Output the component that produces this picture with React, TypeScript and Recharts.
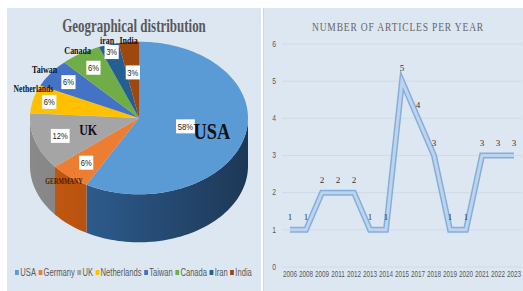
import React from "react";
import { PieChart, Pie, Cell, Legend, LineChart, Line, XAxis, YAxis, CartesianGrid, LabelList } from "recharts";

const countries = ["USA", "Germany", "UK", "Netherlands", "Taiwan", "Canada", "Iran", "India"];
const sliceLabels = ["USA", "GERMMANY", "UK", "Netherlands", "Taiwan", "Canada", "iran", "India"];
const shares = [58, 6, 12, 6, 6, 6, 3, 3];

const years = ["2006", "2008", "2009", "2011", "2012", "2013", "2014", "2015", "2017", "2018", "2019", "2020", "2021", "2022", "2023"];
const articles = [1, 1, 2, 2, 2, 1, 1, 5, 4, 3, 1, 1, 3, 3, 3];
const yTicks = [0, 1, 2, 3, 4, 5, 6];

const colors = ["#5b9bd5", "#ed7d31", "#a5a5a5", "#ffc000", "#4472c4", "#70ad47", "#255e91", "#9e480e"];
const sideLeft = ["#3367a0", "#c55a11", "#8a8a8a", "#bf9000", "#2f5597", "#548235", "#1c4670", "#763608"];
const sideRight = ["#1d3856", "#8f3f0b", "#6a6a6a", "#8f6b00", "#203a66", "#3b5c25", "#13304d", "#562705"];

// label placement, as fractions of the radius (plus a small lift in px for names)
const pctRadius = [0.44, 0.76, 0.76, 0.85, 0.8, 0.78, 0.9, 0.6];
const nameRadius = [0.69, 1.08, 0.49, 1.0, 1.07, 1.05, 1.05, 1.02];
const nameLift = [0, 0, 0, 10, 0, 0, 0, 0];
const nameSize = [23, 7.5, 15, 9.5, 10, 10, 10, 10];
const nameColor = ["#111", "#4a1e00", "#111", "#111", "#111", "#111", "#111", "#111"];

const pieData = countries.map((c, i) => ({ name: c, value: shares[i] }));
const lineData = years.map((y, i) => ({ year: y, v: articles[i] }));

const TILT = 0.7;
const DEPTH = 48;
const BG = "#dde7f2";

function arcPts(cx: number, cy: number, r: number, a0: number, a1: number, dy = 0) {
  const n = Math.max(2, Math.ceil(Math.abs(a1 - a0) / 2));
  const pts: string[] = [];
  for (let i = 0; i <= n; i++) {
    const a = ((a0 + ((a1 - a0) * i) / n) * Math.PI) / 180;
    pts.push(`${cx + r * Math.cos(a)},${cy - r * Math.sin(a) * TILT + dy}`);
  }
  return pts;
}

function Slice3D(props: any) {
  const { cx, cy, outerRadius, startAngle, endAngle, fill } = props;
  const idx = colors.indexOf(fill);
  const lo = Math.min(startAngle, endAngle);
  const hi = Math.max(startAngle, endAngle);
  const top = `M${cx},${cy} L${arcPts(cx, cy, outerRadius, startAngle, endAngle).join(" L")} Z`;
  const s0 = Math.max(lo, -180);
  const s1 = Math.min(hi, 0);
  let side = null;
  if (s1 > s0) {
    const upper = arcPts(cx, cy, outerRadius, s0, s1);
    const lower = arcPts(cx, cy, outerRadius, s1, s0, DEPTH);
    side = `M${upper.join(" L")} L${lower.join(" L")} Z`;
  }
  const gid = `side-${idx}`;
  return (
    <g>
      <defs>
        <linearGradient id={gid} gradientUnits="userSpaceOnUse" x1={cx - outerRadius} y1={0} x2={cx + outerRadius} y2={0}>
          <stop offset="0%" stopColor={sideLeft[idx]} />
          <stop offset="100%" stopColor={sideRight[idx]} />
        </linearGradient>
      </defs>
      {side && <path d={side} fill={`url(#${gid})`} />}
      <path d={top} fill={fill} />
    </g>
  );
}

function renderPieLabel(p: any) {
  const { cx, cy, midAngle, outerRadius, percent, index } = p;
  const a = (midAngle * Math.PI) / 180;
  const at = (f: number) => [cx + outerRadius * f * Math.cos(a), cy - outerRadius * f * Math.sin(a) * TILT];
  const [px, py] = at(pctRadius[index]);
  const [nx, ny0] = at(nameRadius[index]);
  const ny = ny0 - nameLift[index];
  const pct = `${Math.round(percent * 100)}%`;
  const w = pct.length * 4.6 + 5;
  return (
    <g key={`lbl-${index}`}>
      <rect x={px - w / 2} y={py - 7} width={w} height={14} fill="#fff" />
      <text transform={`translate(${px},${py}) scale(0.8,1)`} textAnchor="middle" dominantBaseline="central" fontSize={9.5} fill="#222" fontFamily="Liberation Sans, Arial, sans-serif">
        {pct}
      </text>
      <text transform={`translate(${nx},${ny}) scale(0.8,1)`} textAnchor="middle" dominantBaseline="central" fontSize={nameSize[index]} fontWeight="bold" fill={nameColor[index]} fontFamily="Liberation Serif, Times New Roman, serif">
        {sliceLabels[index]}
      </text>
    </g>
  );
}

function PieLegend() {
  return (
    <div style={{ whiteSpace: "nowrap", fontSize: 10, color: "#595959", fontFamily: "Liberation Sans, Arial, sans-serif", transform: "scaleX(0.76)", transformOrigin: "left center", textAlign: "left" }}>
      {countries.map((c, i) => (
        <span key={c} style={{ marginRight: 3 }}>
          <span style={{ display: "inline-block", width: 5, height: 5, background: colors[i], marginRight: 2, verticalAlign: "middle" }} />
          <span style={{ verticalAlign: "middle" }}>{c}</span>
        </span>
      ))}
    </div>
  );
}

function NarrowTick(props: any) {
  const { x, y, payload, anchor, size } = props;
  return (
    <text transform={`translate(${x},${y}) scale(0.75,1)`} textAnchor={anchor} dominantBaseline="central" fontSize={size} fill="#595959" fontFamily="Liberation Sans, Arial, sans-serif">
      {payload.value}
    </text>
  );
}

export default function App() {
  return (
    <div style={{ position: "absolute", left: 0, top: 0, width: 523, height: 291, background: "#fff", overflow: "hidden" }}>
      <div style={{ position: "absolute", left: 7, top: 8, width: 254, height: 283, background: BG }}>
        <div style={{ position: "absolute", left: 0, top: 8, width: 254, textAlign: "center", fontSize: 18, fontWeight: "bold", color: "#595959", fontFamily: "Liberation Serif, Times New Roman, serif", transform: "scaleX(0.72)" }}>
          Geographical distribution
        </div>
        <PieChart width={254} height={283} margin={{ top: 0, right: 0, bottom: 0, left: 0 }}>
          <Pie
            data={pieData}
            dataKey="value"
            nameKey="name"
            cx={132}
            cy={110}
            outerRadius={109}
            startAngle={90}
            endAngle={-270}
            stroke="none"
            shape={Slice3D}
            label={renderPieLabel}
            labelLine={false}
            isAnimationActive={false}
          >
            {pieData.map((d, i) => (
              <Cell key={d.name} fill={colors[i]} />
            ))}
          </Pie>
          <Legend content={<PieLegend />} wrapperStyle={{ position: "absolute", left: 8, top: 258, bottom: "auto", width: 250 }} />
        </PieChart>
      </div>
      <div style={{ position: "absolute", left: 263, top: 8, width: 260, height: 283, background: BG, borderLeft: "1px solid #c9d6e5", boxSizing: "border-box" }}>
        <div style={{ position: "absolute", left: 0, top: 12, width: 268, textAlign: "center", fontSize: 12.5, letterSpacing: 1.1, color: "#666", fontFamily: "Liberation Serif, Times New Roman, serif", transform: "scaleX(0.76)" }}>
          NUMBER OF ARTICLES PER YEAR
        </div>
        <LineChart width={258} height={283} data={lineData} margin={{ top: 36, right: 0, bottom: 4, left: 0 }}>
          <CartesianGrid vertical={false} stroke="#d0dbe8" />
          <XAxis
            dataKey="year"
            axisLine={false}
            tickLine={false}
            interval={0}
            height={20}
            tickSize={4}
            tickMargin={3}
            padding={{ left: 8, right: 8 }}
            tick={<NarrowTick anchor="middle" size={8.5} />}
          />
          <YAxis
            domain={[0, 6]}
            ticks={yTicks}
            width={18}
            axisLine={false}
            tickLine={false}
            tickSize={4}
            tickMargin={2}
            tick={<NarrowTick anchor="end" size={9} />}
          />
          <Line type="linear" dataKey="v" stroke="#86aedb" strokeWidth={6} dot={false} isAnimationActive={false} />
          <Line type="linear" dataKey="v" stroke="#bcd4ee" strokeWidth={3} dot={false} isAnimationActive={false}>
            <LabelList dataKey="v" position="top" offset={10} fontSize={9} fill="#333" fontFamily="Liberation Serif, serif" />
          </Line>
        </LineChart>
      </div>
    </div>
  );
}
